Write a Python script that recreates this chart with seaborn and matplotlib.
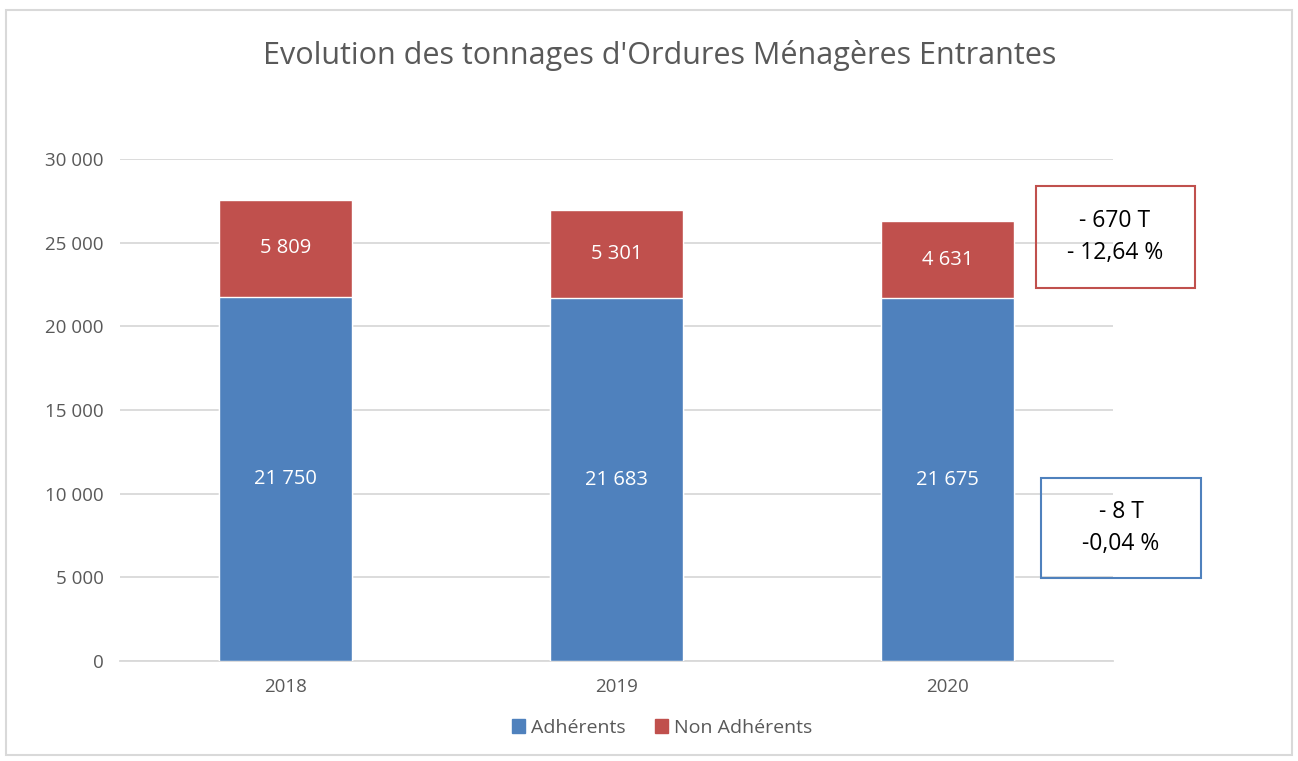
import pandas as pd
import matplotlib.pyplot as plt
import seaborn as sns
from matplotlib.patches import Rectangle, Patch

annees = ["2018", "2019", "2020"]
adherents = [21750, 21683, 21675]
non_adherents = [5809, 5301, 4631]
y_ticks = [0, 5000, 10000, 15000, 20000, 25000, 30000]

bleu = "#4F81BD"
rouge = "#C0504D"

df = pd.DataFrame({"annee": annees, "adh": adherents, "non": non_adherents})
df["total"] = df["adh"] + df["non"]

sns.set_style("white")
plt.rcParams["font.family"] = ["Open Sans", "DejaVu Sans"]

fig = plt.figure(figsize=(12.98, 7.61), dpi=100)
ax = fig.add_axes([0.0925, 0.1314, 0.765, 0.6596])

sns.barplot(x="annee", y="total", data=df, color=rouge, width=0.4, saturation=1, ax=ax, zorder=3)
sns.barplot(x="annee", y="adh", data=df, color=bleu, width=0.4, saturation=1, ax=ax, zorder=3)

ax.set_ylim(0, 30000)
ax.set_xlim(-0.5, 2.5)
ax.set_yticks(y_ticks)
ax.set_yticklabels([f"{v:,}".replace(",", " ") for v in y_ticks])
ax.yaxis.grid(True, color="#D9D9D9", linewidth=1.3, zorder=0)
ax.set_axisbelow(True)
for s in ["top", "right", "left"]:
    ax.spines[s].set_visible(False)
ax.spines["bottom"].set_color("#D9D9D9")
ax.spines["bottom"].set_linewidth(1.3)
ax.tick_params(axis="both", length=0, labelsize=13.5, colors="#595959", pad=12)
ax.set_xlabel("")
ax.set_ylabel("")

def fmt(v):
    return f"{v:,}".replace(",", " ")

for i in range(len(annees)):
    ax.text(i, adherents[i] / 2, fmt(adherents[i]), ha="center", va="center", color="white", fontsize=14.5)
    ax.text(i, adherents[i] + non_adherents[i] / 2, fmt(non_adherents[i]), ha="center", va="center",
            color="white", fontsize=14.5)

fig.text(0.508, 0.927, "Evolution des tonnages d'Ordures Ménagères Entrantes", ha="center", va="center",
         fontsize=22, color="#595959")

# encadrés de variation
fig.text(1115 / 1298, 1 - 237 / 761, "- 670 T\n- 12,64 %", ha="center", va="center", fontsize=16.5,
         color="black", linespacing=1.4)
fig.patches.append(Rectangle((1036 / 1298, 1 - 288 / 761), 159 / 1298, 102 / 761, transform=fig.transFigure,
                             fill=False, edgecolor=rouge, linewidth=1.5))
fig.text(1121 / 1298, 1 - 528 / 761, "- 8 T\n-0,04 %", ha="center", va="center", fontsize=16.5,
         color="black", linespacing=1.4)
fig.patches.append(Rectangle((1041 / 1298, 1 - 578 / 761), 160 / 1298, 100 / 761, transform=fig.transFigure,
                             fill=False, edgecolor=bleu, linewidth=1.5))

# cadre du graphique
fig.patches.append(Rectangle((6 / 1298, 6 / 761), 1286 / 1298, 745 / 761, transform=fig.transFigure,
                             fill=False, edgecolor="#D9D9D9", linewidth=1.5))

handles = [Patch(color=bleu, label="Adhérents"), Patch(color=rouge, label="Non Adhérents")]
fig.legend(handles=handles, loc="center", bbox_to_anchor=(0.51, 1 - 728 / 761), ncol=2, frameon=False,
           fontsize=14, handlelength=0.7, handleheight=0.7, handletextpad=0.3, columnspacing=1.5,
           labelcolor="#595959")

fig.savefig("out.png", dpi=100)
